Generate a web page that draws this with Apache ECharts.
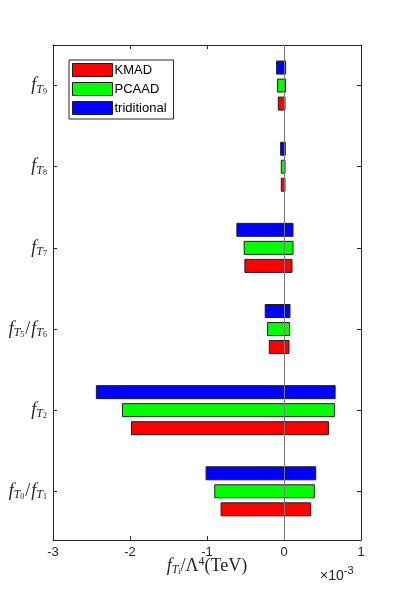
<!DOCTYPE html>
<html>
<head>
<meta charset="utf-8">
<script src="https://cdn.jsdelivr.net/npm/echarts@6/dist/echarts.min.js"></script>
<style>html,body{margin:0;padding:0;background:#fff;}#c{width:399px;height:597px;}</style>
</head>
<body>
<div id="c"></div>
<script>
// category positions (1 = bottom) and their labels
var categoryPos = [1, 2, 3, 4, 5, 6];
var categoryLabels = [
  '{f|f}{s|T}{ss|0}{r|/}{f|f}{s|T}{ss|1}',
  '{f|f}{s|T}{ss|2}',
  '{f|f}{s|T}{ss|5}{r|/}{f|f}{s|T}{ss|6}',
  '{f|f}{s|T}{ss|7}',
  '{f|f}{s|T}{ss|8}',
  '{f|f}{s|T}{ss|9}'
];
var xTitle = '{f|f}{s|T}{ss|i}{r|/Λ}{sup|4}{r|(TeV)}';
// x tick values (units of 1e-3)
var xTicks = [-3, -2, -1, 0, 1];
// intervals, units of 1e-3
var kmadLo  = [-0.817, -1.98, -0.191, -0.508, -0.035, -0.074];
var kmadHi  = [0.347, 0.577, 0.065, 0.104, 0.013, 0.013];
var pcaadLo = [-0.899, -2.098, -0.213, -0.517, -0.035, -0.083];
var pcaadHi = [0.395, 0.655, 0.073, 0.117, 0.013, 0.021];
var tradLo  = [-1.012, -2.437, -0.244, -0.612, -0.044, -0.096];
var tradHi  = [0.412, 0.664, 0.078, 0.117, 0.017, 0.021];
var seriesNames = ['KMAD', 'PCAAD', 'triditional'];

function build(lo, hi) {
  return categoryPos.map(function (p, i) { return [lo[i], hi[i], p]; });
}
function makeRender(offset) {
  return function (params, api) {
    var lo = api.value(0), hi = api.value(1), y = api.value(2);
    var p1 = api.coord([lo, y + offset]);
    var p2 = api.coord([hi, y + offset]);
    var h = 13;
    return {
      type: 'rect',
      shape: { x: p1[0], y: p1[1] - h / 2, width: p2[0] - p1[0], height: h },
      style: api.style()
    };
  };
}
var axisColor = '#262626';
var fontSans = '"Liberation Sans", Arial, sans-serif';
var fontSerif = '"Liberation Serif", "Times New Roman", serif';
var yRich = {
  f: { fontFamily: fontSerif, fontStyle: 'italic', fontSize: 18, color: axisColor, lineHeight: 20, verticalAlign: 'middle' },
  s: { fontFamily: fontSerif, fontStyle: 'italic', fontSize: 12, color: axisColor, verticalAlign: 'bottom', lineHeight: 13, padding: [7, 0, 0, 0] },
  ss: { fontFamily: fontSerif, fontSize: 8, color: axisColor, verticalAlign: 'bottom', lineHeight: 9, padding: [12, 0, 0, 0] },
  r: { fontFamily: fontSerif, fontSize: 18, color: axisColor, lineHeight: 20, padding: [0, 1, 0, 1] }
};
function fillRich(r) {
  var o = {};
  Object.keys(r).forEach(function (k) {
    var s = Object.assign({}, r[k]);
    s.fill = s.color; delete s.color;
    o[k] = s;
  });
  return o;
}
var titleRich = fillRich({
  f: yRich.f, s: yRich.s, ss: yRich.ss,
  r: { fontFamily: fontSerif, fontSize: 18, color: axisColor, lineHeight: 20 },
  sup: { fontFamily: fontSerif, fontSize: 12, color: axisColor, verticalAlign: 'top', lineHeight: 12, padding: [0, 0, 8, 0] }
});

var chart = echarts.init(document.getElementById('c'));
var colors = ['#ff0000', '#00ff00', '#0000ff'];
var offsets = [-0.222, 0, 0.222];
var datas = [build(kmadLo, kmadHi), build(pcaadLo, pcaadHi), build(tradLo, tradHi)];
var series = seriesNames.map(function (n, k) {
  return {
    name: n,
    type: 'custom',
    renderItem: makeRender(offsets[k]),
    encode: { x: [0, 1], y: 2 },
    data: datas[k],
    itemStyle: { color: colors[k], borderColor: '#1e1e1e', borderWidth: 1 },
    z: 2
  };
});
series.push({
  type: 'line',
  data: [],
  markLine: {
    silent: true,
    symbol: 'none',
    label: { show: false },
    lineStyle: { color: '#7a7a7a', width: 1, type: 'solid' },
    data: [{ xAxis: 0 }],
    z: 10
  },
  z: 10
});

chart.setOption({
  animation: false,
  backgroundColor: '#fff',
  grid: { left: 53, right: 38, top: 45, bottom: 57, containLabel: false },
  legend: {
    orient: 'vertical',
    left: 69,
    top: 60,
    data: seriesNames.map(function (n, k) {
      return { name: n, icon: 'rect', itemStyle: { color: colors[k], borderColor: '#1e1e1e', borderWidth: 1 } };
    }),
    itemWidth: 40,
    itemHeight: 13,
    itemGap: 5,
    padding: [3, 7, 4, 3],
    borderColor: axisColor,
    borderWidth: 1,
    backgroundColor: '#fff',
    textStyle: { fontFamily: fontSans, fontSize: 13, color: '#000', padding: [0, 0, 0, -3] }
  },
  xAxis: [{
    type: 'value', min: -3, max: 1, interval: 1, position: 'bottom',
    axisLine: { show: true, onZero: false, lineStyle: { color: axisColor, width: 1 } },
    axisTick: { show: true, inside: true, length: 4, lineStyle: { color: axisColor } },
    axisLabel: { color: axisColor, fontFamily: fontSans, fontSize: 13, margin: 6,
      customValues: xTicks },
    splitLine: { show: false }
  }, {
    type: 'value', min: -3, max: 1, interval: 1, position: 'top',
    axisLine: { show: true, onZero: false, lineStyle: { color: axisColor, width: 1 } },
    axisTick: { show: true, inside: true, length: 4, lineStyle: { color: axisColor } },
    axisLabel: { show: false },
    splitLine: { show: false }
  }],
  yAxis: [{
    type: 'value', min: 0.4, max: 6.5, position: 'left',
    axisLine: { show: true, onZero: false, lineStyle: { color: axisColor, width: 1 } },
    axisTick: { show: true, inside: true, length: 4, lineStyle: { color: axisColor }, customValues: categoryPos },
    axisLabel: {
      customValues: categoryPos, margin: 6,
      formatter: function (v) { return categoryLabels[Math.round(v) - 1] || ''; },
      rich: yRich
    },
    splitLine: { show: false }
  }, {
    type: 'value', min: 0.4, max: 6.5, position: 'right',
    axisLine: { show: true, onZero: false, lineStyle: { color: axisColor, width: 1 } },
    axisTick: { show: true, inside: true, length: 4, lineStyle: { color: axisColor }, customValues: categoryPos },
    axisLabel: { show: false },
    splitLine: { show: false }
  }],
  graphic: [{
    type: 'text',
    x: 207,
    y: 566,
    style: { text: xTitle, rich: titleRich, align: 'center', verticalAlign: 'middle' }
  }, {
    type: 'text',
    left: 320,
    top: 565,
    style: {
      text: '{a|×10}{b|-3}',
      rich: {
        a: { fontFamily: fontSans, fontSize: 14, fill: axisColor, lineHeight: 18, verticalAlign: 'bottom' },
        b: { fontFamily: fontSans, fontSize: 11, fill: axisColor, lineHeight: 18, verticalAlign: 'top', padding: [0, 0, 7, 0] }
      }
    }
  }],
  series: series
});
</script>
</body>
</html>
